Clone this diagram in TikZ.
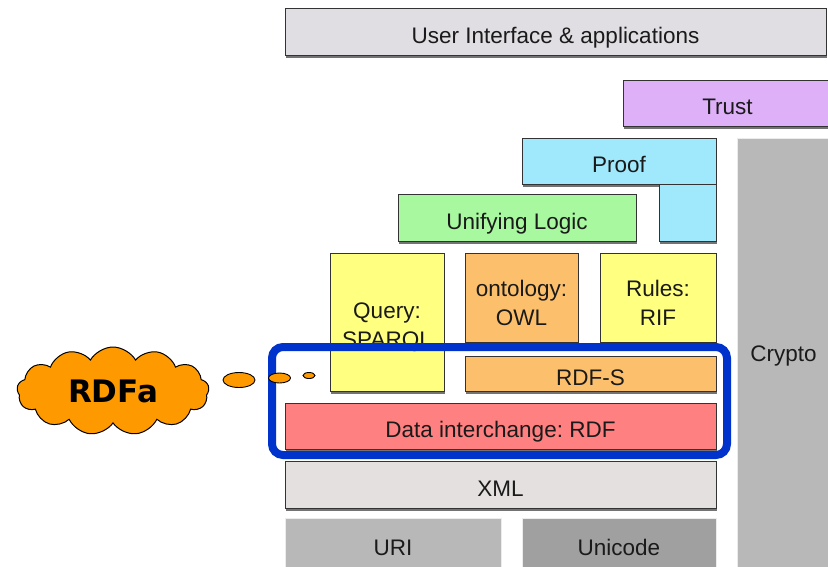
\documentclass[tikz,border=0pt]{standalone}
\usepackage{fontspec}
\setmainfont{Liberation Sans}
\newfontfamily\dejavu{DejaVu Sans}
\usetikzlibrary{shadows,shapes.geometric,shapes.symbols}
\definecolor{uicol}{HTML}{E0DEE2}
\definecolor{trustcol}{HTML}{DDB0F8}
\definecolor{proofcol}{HTML}{A0E8FC}
\definecolor{logiccol}{HTML}{A8F8A0}
\definecolor{yelcol}{HTML}{FFFF80}
\definecolor{orgcol}{HTML}{FCC06C}
\definecolor{rdfcol}{HTML}{FF8080}
\definecolor{xmlcol}{HTML}{E4E0E0}
\definecolor{uricol}{HTML}{B8B8B8}
\definecolor{unicol}{HTML}{A0A0A0}
\definecolor{cryptocol}{HTML}{B8B8B8}
\definecolor{framecol}{HTML}{0033CC}
\definecolor{rdfacol}{HTML}{FF9900}
\definecolor{txtcol}{HTML}{1A1A1A}
\frenchspacing
\begin{document}
\begin{tikzpicture}[x=1pt,y=-1pt,
  box/.style={draw=black!80, line width=0.9pt, inner sep=0pt, text=txtcol,
    font=\fontsize{22.5}{29}\selectfont},
  sz/.style 2 args={minimum width=#1pt, minimum height=#2pt},
  sh/.style={drop shadow={shadow xshift=0.8pt, shadow yshift=-2.8pt, opacity=0.55, fill=black}},
  oneline/.style={text height=25pt, text depth=2pt},
  flatbox/.style={draw=gray!15, line width=1pt, inner sep=0pt, text=txtcol,
    font=\fontsize{22.5}{29}\selectfont},
  bubble/.style={ellipse, draw=black, line width=0.9pt, fill=rdfacol, inner sep=0pt},
  rdfframe/.style={draw=framecol, line width=8pt, rounded corners=11pt, inner sep=0pt}
]
\useasboundingbox (0,0) rectangle (828,566);
\fill[white] (0,0) rectangle (828,566);

% top layers
\node[box,sh,oneline,fill=uicol,sz={541}{47}] (ui) at (555.5,31.5) {User Interface \& applications};
\node[box,sh,oneline,fill=trustcol,sz={209}{46}] (trust) at (727.5,103) {Trust};
\node[box,sh,oneline,fill=proofcol,sz={194}{46}] (proof) at (619,161) {Proof};
\node[box,sh,fill=proofcol,sz={57}{57}] (proofleg) at (687.5,212.5) {};
\node[flatbox,fill=cryptocol,text height=17pt,text depth=2pt,sz={93}{432}] (crypto) at (783.5,354) {Crypto};
\node[box,sh,oneline,fill=logiccol,sz={238}{47}] (logic) at (517,217.5) {Unifying Logic};

% middle layers
\node[box,sh,fill=yelcol,align=center,sz={114}{138}] (query) at (387,322)
  {\rule{0pt}{27pt}Query:\\SPARQL\rule[-2pt]{0pt}{2pt}};
\node[box,sh,fill=orgcol,align=center,sz={113}{89}] (owl) at (521.5,297.5)
  {\rule{0pt}{28pt}ontology:\\OWL\rule[-2pt]{0pt}{2pt}};
\node[box,sh,fill=yelcol,align=center,sz={116}{89}] (rif) at (658,297.5)
  {\rule{0pt}{28pt}Rules:\\RIF\rule[-2pt]{0pt}{2pt}};
\node[box,sh,oneline,fill=orgcol,sz={251}{35}] (rdfs) at (590.5,373.5) {RDF-S};
\node[box,sh,oneline,fill=rdfcol,sz={431}{46}] (rdf) at (500.5,426) {Data interchange: RDF};

% bottom layers
\node[box,sh,oneline,fill=xmlcol,sz={431}{47}] (xml) at (500.5,484.5) {XML};
\node[flatbox,oneline,fill=uricol,sz={216}{52}] (uri) at (393,544) {URI};
\node[flatbox,oneline,fill=unicol,sz={194}{52}] (unicode) at (619,544) {Unicode};

% highlight frame
\node[rdfframe,sz={455}{108}] (frame) at (499.5,401) {};

% RDFa thought cloud
\node[cloud, cloud puffs=13, cloud puff arc=120, aspect=2.2, draw=black, line width=1pt,
  fill=rdfacol, minimum width=192pt, minimum height=88pt, inner sep=0pt,
  font=\dejavu\bfseries\fontsize{31}{31}\selectfont, text=black] (rdfa) at (113,391) {RDFa};
\node[bubble, minimum width=32pt, minimum height=15pt] (bub1) at (239,380) {};
\node[bubble, minimum width=22pt, minimum height=10pt] (bub2) at (279.5,378) {};
\node[bubble, minimum width=12pt, minimum height=6pt] (bub3) at (309,375.5) {};
\end{tikzpicture}
\end{document}
